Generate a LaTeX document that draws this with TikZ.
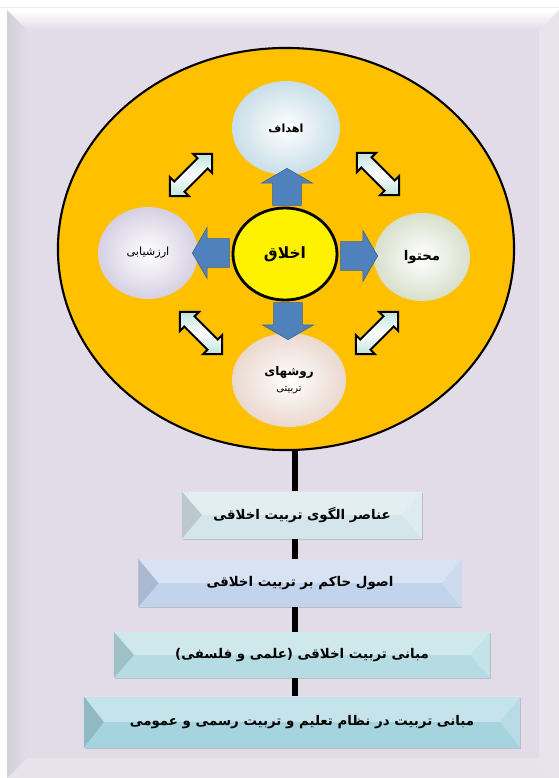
\documentclass[tikz,border=0pt]{standalone}
\usepackage{fontspec}
\newfontfamily\arabicfont[Script=Arabic]{DejaVu Sans}
\TeXXeTstate=1
\usetikzlibrary{shapes.geometric,shapes.arrows,shadows}

\definecolor{panel}{HTML}{E1DCE8}
\definecolor{ringfill}{HTML}{FFC000}
\definecolor{arrowblue}{HTML}{4F81BD}
\definecolor{arrowpale}{HTML}{BFE3DC}
\definecolor{goalcol}{HTML}{C9DEE8}
\definecolor{assesscol}{HTML}{D6D0E2}
\definecolor{contentcol}{HTML}{D8E0CC}
\definecolor{methodcol}{HTML}{EAD8CE}
\definecolor{lev1}{HTML}{D5E5EC}
\definecolor{lev2}{HTML}{C2D3EC}
\definecolor{lev3}{HTML}{B5DCE3}
\definecolor{lev4}{HTML}{A5D4DF}

\begin{document}
\begin{tikzpicture}[x=0.025cm, y=-0.025cm,
    bubble/.style={ellipse, inner sep=0pt, align=center, inner color=white,
      font=\arabicfont\bfseries\fontsize{8}{10}\selectfont},
    bluearrow/.style={single arrow, fill=arrowblue, draw=arrowblue!75!black,
      inner sep=10pt, single arrow head extend=8pt, single arrow tip angle=120,
      minimum height=0.92cm},
    twoway/.style={double arrow, draw=black, line width=1.4pt,
      top color=arrowpale, bottom color=arrowpale, middle color=white,
      inner sep=4.5pt, double arrow head extend=4.5pt, minimum height=1.5cm},
    level/.style={rectangle, inner sep=0pt,
      font=\arabicfont\bfseries\fontsize{9.5}{11}\selectfont,
      drop shadow={shadow xshift=0.6pt, shadow yshift=-1pt, opacity=0.35},
      path picture={
        \fill[white, opacity=.35] (path picture bounding box.north west) -- (path picture bounding box.north east)
          -- ([xshift=-0.5cm]path picture bounding box.east) -- ([xshift=0.5cm]path picture bounding box.west) -- cycle;
        \fill[black, opacity=.12] (path picture bounding box.north west) -- ([xshift=0.5cm]path picture bounding box.west)
          -- (path picture bounding box.south west) -- cycle;
        \fill[white, opacity=.2] (path picture bounding box.north east) -- ([xshift=-0.5cm]path picture bounding box.east)
          -- (path picture bounding box.south east) -- cycle;
      }}]
    \useasboundingbox (0,0) rectangle (559,778);

    % background panel
    \fill[white] (0,0) rectangle (559,778);
    \draw[gray!15] (0,7) -- (559,7);
    \fill[panel] (7,10) rectangle (559,778);
    \shade[top color=white, bottom color=panel] (7,10) -- (559,10) -- (539,30) -- (27,30) -- cycle;
    \shade[left color=panel!85!gray, right color=panel] (7,10) -- (27,30) -- (27,758) -- (7,778) -- cycle;
    \fill[white, opacity=.25] (559,10) -- (539,30) -- (539,758) -- (559,778) -- cycle;
    \fill[white, opacity=.2] (7,778) -- (27,758) -- (539,758) -- (559,778) -- cycle;

    % big circle and centre
    \node[ellipse, draw, line width=1.5pt, fill=ringfill, minimum width=11.4cm, minimum height=10.05cm] (ring) at (286,249) {};
    \node[ellipse, draw, line width=2pt, fill=yellow, minimum width=2.6cm, minimum height=2.3cm,
      font=\arabicfont\bfseries\fontsize{11}{13}\selectfont] (core) at (285,254) {\beginR اخلاق\endR};

    \node[bubble, outer color=goalcol, minimum width=2.7cm, minimum height=2.35cm] (goal) at (286,128) {\beginR اهداف\endR};
    \node[bubble, outer color=assesscol, minimum width=2.5cm, minimum height=2.3cm,
      font=\arabicfont\fontsize{8}{10}\selectfont] (assess) at (148,253) {\beginR ارزشیابی\endR};
    \node[bubble, outer color=contentcol, minimum width=2.4cm, minimum height=2.2cm,
      font=\arabicfont\bfseries\fontsize{9.5}{12}\selectfont] (content) at (422,257) {\beginR محتوا\endR};
    \node[bubble, outer color=methodcol, minimum width=2.85cm, minimum height=2.35cm,
      font=\arabicfont\fontsize{7}{9}\selectfont] (method) at (289,380)
      {{\bfseries\fontsize{8.5}{10}\selectfont\beginR روشهای\endR}\\[2pt]\beginR تربیتی\endR};

    % arrows from the centre
    \node[bluearrow, rotate=90] (arrup) at (287,191) {};
    \node[bluearrow, rotate=180] (arrleft) at (215,253) {};
    \node[bluearrow] (arrright) at (355,256) {};
    \node[bluearrow, rotate=-90] (arrdown) at (288,317) {};

    % two-way arrows between the bubbles
    \node[twoway, rotate=45] (harr1) at (191,175) {};
    \node[twoway, rotate=-45] (harr2) at (378,174) {};
    \node[twoway, rotate=-45] (harr3) at (201,333) {};
    \node[twoway, rotate=45] (harr4) at (377,333) {};

    % levels below
    \node[level, fill=lev1, minimum width=6.0cm, minimum height=1.175cm] (level1) at (302,515) {\beginR عناصر الگوی تربیت اخلاقی\endR};
    \node[level, fill=lev2, minimum width=8.075cm, minimum height=1.2cm] (level2) at (300,583) {\beginR اصول حاکم بر تربیت اخلاقی\endR};
    \node[level, fill=lev3, minimum width=9.4cm, minimum height=1.15cm] (level3) at (302,655) {\beginR مبانی تربیت اخلاقی (علمی و فلسفی)\endR};
    \node[level, fill=lev4, minimum width=10.9cm, minimum height=1.275cm] (level4) at (302,722) {\beginR مبانی تربیت در نظام تعلیم و تربیت رسمی و عمومی\endR};

    \coordinate (stem) at (295,449);
    \draw[line width=4.3pt] (stem) -- (stem |- level1.north);
    \draw[line width=4.3pt] (stem |- level1.south) -- (stem |- level2.north);
    \draw[line width=4.3pt] (stem |- level2.south) -- (stem |- level3.north);
    \draw[line width=4.3pt] (stem |- level3.south) -- (stem |- level4.north);
\end{tikzpicture}
\end{document}
